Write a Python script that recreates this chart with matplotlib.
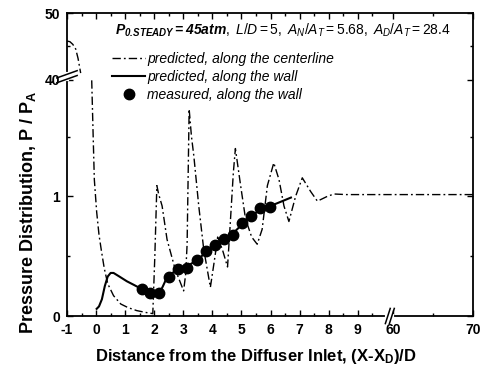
import numpy as np
import matplotlib
matplotlib.use("Agg")
import matplotlib.pyplot as plt

plt.rcParams['font.family'] = ['Liberation Sans', 'DejaVu Sans']
plt.rcParams['mathtext.fontset'] = 'custom'
plt.rcParams['mathtext.rm'] = 'Liberation Sans'
plt.rcParams['mathtext.it'] = 'Liberation Sans:italic'
plt.rcParams['mathtext.bf'] = 'Liberation Sans:bold:italic'
plt.rcParams['mathtext.sf'] = 'Liberation Sans:bold'

# ---------------- data ----------------
# predicted, along the centerline (upper branch, above the y-break)
cl_x_up = [-1.0, -0.9, -0.8, -0.7, -0.62, -0.53]
cl_y_up = [45.8, 45.7, 45.3, 44.6, 43.2, 41.0]
# predicted, along the centerline (lower branch)
cl_x = [-0.15, -0.1, -0.06, 0.02, 0.1, 0.18, 0.28, 0.4, 0.6, 0.85, 1.1, 1.4, 1.7, 1.95,
        2.02, 2.09, 2.15, 2.27, 2.44, 2.72, 3.01, 3.08, 3.13, 3.2, 3.28, 3.36, 3.53, 3.7,
        3.93, 4.09, 4.18, 4.35, 4.52, 4.6, 4.72, 4.79, 4.97, 5.14, 5.35, 5.54, 5.71, 5.89,
        6.11, 6.29, 6.46, 6.63, 6.86, 7.09, 7.38, 7.61, 7.95, 8.18, 8.6, 9.5, 60.0, 70.0]
cl_y = [1.97, 1.5, 1.14, 0.87, 0.68, 0.55, 0.40, 0.27, 0.17, 0.10, 0.07, 0.045, 0.03, 0.02,
        0.5, 1.09, 1.02, 0.92, 0.64, 0.39, 0.21, 0.35, 0.6, 1.73, 1.5, 1.34, 0.92, 0.56,
        0.24, 0.50, 0.66, 0.55, 0.41, 0.72, 1.2, 1.40, 1.09, 0.81, 0.66, 0.60, 0.725, 1.09,
        1.28, 1.14, 0.92, 0.79, 1.0, 1.155, 1.04, 0.96, 1.0, 1.02, 1.015, 1.015, 1.015, 1.015]
# predicted, along the wall
wall_x = [0.02, 0.1, 0.2, 0.3, 0.4, 0.5, 0.6, 0.8, 1.06, 1.3, 1.57, 1.8, 1.95, 2.2, 2.3,
          2.45, 2.8, 3.15, 3.5, 3.8, 4.1, 4.4, 4.7, 5.0, 5.3, 5.6, 6.0, 6.4, 6.7]
wall_y = [0.06, 0.08, 0.14, 0.25, 0.33, 0.36, 0.36, 0.33, 0.29, 0.26, 0.225, 0.2, 0.19,
          0.2, 0.25, 0.33, 0.39, 0.42, 0.47, 0.54, 0.59, 0.64, 0.69, 0.76, 0.83, 0.88,
          0.92, 0.96, 0.99]
# measured, along the wall
meas_x = [1.57, 1.87, 2.17, 2.52, 2.83, 3.13, 3.46, 3.78, 4.09, 4.4, 4.71, 5.02, 5.33,
          5.63, 5.97]
meas_y = [0.225, 0.19, 0.19, 0.33, 0.395, 0.405, 0.47, 0.545, 0.595, 0.64, 0.68, 0.78,
          0.84, 0.905, 0.91]

xticks = [-1, 0, 1, 2, 3, 4, 5, 6, 7, 8, 9, 60, 70]
xminor = [-0.5, 0.5, 1.5, 2.5, 3.5, 4.5, 5.5, 6.5, 7.5, 8.5, 9.5, 65]
yticks = [0, 1, 40, 50]
yminor = [0.5, 1.5, 45]

# ---------------- broken scales ----------------
XB1, XB2, GX, RX = 10.1, 60.0, 0.11, 0.275
YB1, YB2, GY, RY = 1.97, 40.0, 0.005, 0.0558


def fx(x):
    x = np.asarray(x, float)
    return np.where(x <= XB1, x,
                    np.where(x >= XB2, XB1 + GX + (x - XB2) * RX,
                             XB1 + (x - XB1) / (XB2 - XB1) * GX))


def ix(t):
    t = np.asarray(t, float)
    return np.where(t <= XB1, t,
                    np.where(t >= XB1 + GX, XB2 + (t - XB1 - GX) / RX,
                             XB1 + (t - XB1) / GX * (XB2 - XB1)))


def fy(y):
    y = np.asarray(y, float)
    return np.where(y <= YB1, y,
                    np.where(y >= YB2, YB1 + GY + (y - YB2) * RY,
                             YB1 + (y - YB1) / (YB2 - YB1) * GY))


def iy(t):
    t = np.asarray(t, float)
    return np.where(t <= YB1, t,
                    np.where(t >= YB1 + GY, YB2 + (t - YB1 - GY) / RY,
                             YB1 + (t - YB1) / GY * (YB2 - YB1)))


W, H = 489, 370
fig = plt.figure(figsize=(W / 100, H / 100), dpi=100)
L, R, T, B = 67, 473, 13, 316
ax = fig.add_axes([L / W, (H - B) / H, (R - L) / W, (B - T) / H])
ax.set_xscale('function', functions=(fx, ix))
ax.set_yscale('function', functions=(fy, iy))
ax.set_xlim(-1, 70)
ax.set_ylim(0, 50)

dash = (6, 2.2, 1.3, 2.2)
ax.plot(cl_x_up, cl_y_up, color='black', lw=1.0, dashes=dash)
ax.plot(cl_x, cl_y, color='black', lw=1.0, dashes=dash,
        label='predicted, along the centerline')
ax.plot(wall_x, wall_y, color='black', lw=1.5, label='predicted, along the wall')
ax.plot(meas_x, meas_y, 'o', color='black', ms=7.5, label='measured, along the wall')

for s in ax.spines.values():
    s.set_linewidth(1.3)

ax.set_xticks(xticks)
ax.set_xticks(xminor, minor=True)
ax.set_yticks(yticks)
ax.set_yticks(yminor, minor=True)
ax.set_xticklabels([str(v) for v in xticks])
ax.set_yticklabels([str(v) for v in yticks])
ax.tick_params(which='both', direction='in', top=True, right=True, width=1.0)
ax.tick_params(which='major', length=4, labelsize=10, pad=5)
ax.tick_params(which='minor', length=2.5)
for lab in ax.get_xticklabels() + ax.get_yticklabels():
    lab.set_fontweight('bold')


# break marks
def brk(xc, yc, horiz):
    d = 0.012
    kw = dict(transform=ax.transAxes, color='black', lw=1.1, clip_on=False, zorder=5)
    if horiz:  # on bottom spine
        ax.plot([xc - 0.006, xc + 0.006], [-0.001, -0.001], color='white', lw=3,
                transform=ax.transAxes, clip_on=False, zorder=4)
        for o in (-0.005, 0.005):
            ax.plot([xc + o - d * 0.5, xc + o + d * 0.5], [-0.025, 0.025], **kw)
    else:
        ax.plot([0, 0], [yc - 0.008, yc + 0.008], color='white', lw=3,
                transform=ax.transAxes, clip_on=False, zorder=4)
        for o in (-0.008, 0.008):
            ax.plot([-0.025, 0.025], [yc + o - 0.012, yc + o + 0.012], **kw)


xb = (fx(10.15) - fx(-1)) / (fx(70) - fx(-1))
yb = (fy(40) - fy(0)) / (fy(50) - fy(0))
brk(float(xb), 0, True)
brk(0, float(yb) + 0.01, False)

# header text
ax.text((115 - L) / (R - L), (B - 30) / (B - T),
        r"$\mathbf{P_{0.\!STEADY}{=}45atm},\ \mathit{L/D{=}5,\ A_N/A_T{=}5.68,\ A_D/A_T{=}28.4}$",
        transform=ax.transAxes, fontsize=10, va='center', ha='left')

leg = ax.legend(loc='upper left', bbox_to_anchor=((112 - L) / (R - L), (B - 52) / (B - T)),
                frameon=False, handlelength=2.4, handletextpad=0.15, labelspacing=0.3,
                borderpad=0, borderaxespad=0, numpoints=1,
                prop=dict(family='Liberation Sans', style='italic', size=10))

fig.text(256 / W, 1 - 357 / H, "Distance from the Diffuser Inlet, (X-X$_\\mathsf{D}$)/D",
         ha='center', va='center', fontsize=12, fontweight='bold')
fig.text(28 / W, 1 - 212 / H, "Pressure Distribution, P / P$_\\mathsf{A}$",
         ha='center', va='center', rotation=90, fontsize=13, fontweight='bold')

fig.savefig('out.png', dpi=100)
